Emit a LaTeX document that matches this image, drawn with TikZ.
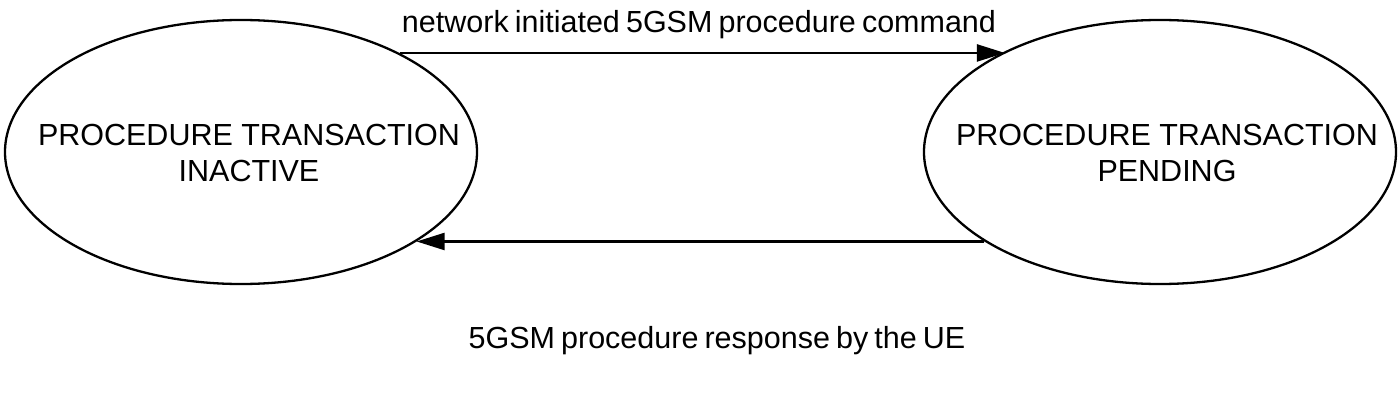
\documentclass[tikz,border=0pt]{standalone}
\usepackage{fontspec}
\setmainfont{Liberation Sans}
\usetikzlibrary{shapes.geometric,arrows.meta}
\begin{document}
\begin{tikzpicture}[x=1pt,y=-1pt,
  state/.style={ellipse,draw,line width=2.3pt,minimum width=472pt,minimum height=264pt,inner sep=0pt},
  lbl/.style={font=\fontsize{30.5}{36}\selectfont,align=center,inner sep=0pt},
  elbl/.style={lbl,execute at begin node={\spaceskip=0.2em\relax}},
  arr/.style={line width=2.3pt,-{Triangle[length=28pt,width=17pt]}}]
\useasboundingbox (0,0) rectangle (1400,420);
\node[state] (L) at (241,152) {};
\node[state] (R) at (1160,152) {};
\node[lbl] (Lt) at (249,153) {PROCEDURE TRANSACTION\\INACTIVE};
\node[lbl] (Rt) at (1167,153) {PROCEDURE TRANSACTION\\PENDING};
\draw[arr] (L.32.5) -- (R.147.5 |- L.32.5);
\draw[arr] (R.-153) -- (L.-27 |- R.-153);
\node[elbl,anchor=base] (top) at (699,33) {network initiated 5GSM procedure command};
\node[elbl,anchor=base] (bot) at (717,348) {5GSM procedure response by the UE};
\end{tikzpicture}
\end{document}
